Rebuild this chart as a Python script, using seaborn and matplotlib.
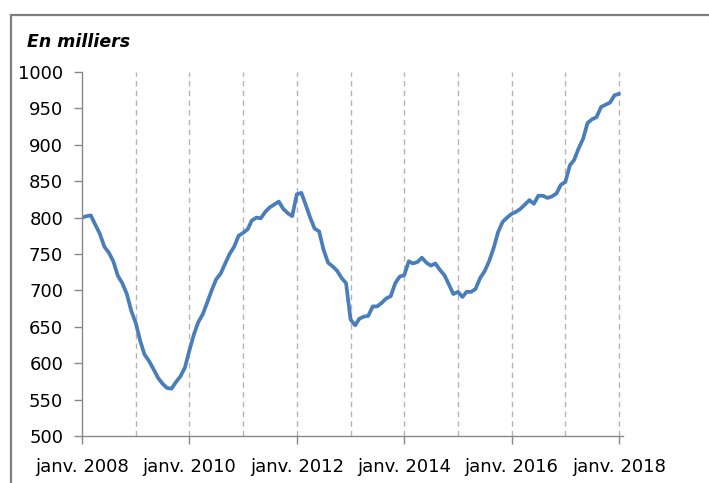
import pandas as pd
import seaborn as sns
import matplotlib.pyplot as plt
from matplotlib.patches import Rectangle

# Monthly series, janv. 2008 -> janv. 2018 (en milliers)
start = '2008-01-01'
values = [800, 802, 803, 790, 778, 760, 752, 740, 720, 710, 695, 672,
          655, 630, 612, 603, 592, 580, 572, 566, 565, 574, 582, 594,
          618, 640, 656, 667, 683, 700, 715, 723, 737, 750, 760, 775,
          779, 784, 796, 800, 799, 808, 814, 818, 822, 812, 806, 802,
          832, 834, 818, 800, 785, 781, 756, 738, 733, 727, 717, 710,
          660, 652, 661, 664, 665, 678, 678, 683, 689, 692, 710, 719,
          721, 740, 737, 739, 745, 738, 734, 737, 728, 721, 708, 695,
          698, 691, 698, 698, 702, 717, 726, 740, 758, 780, 794, 800,
          805, 808, 812, 818, 824, 819, 830, 830, 827, 829, 833, 845,
          849, 872, 879, 895, 908, 930, 935, 938, 952, 955, 958, 968,
          970]
tick_years = [2008, 2010, 2012, 2014, 2016, 2018]
tick_labels = ['janv. 2008', 'janv. 2010', 'janv. 2012', 'janv. 2014', 'janv. 2016', 'janv. 2018']
y_ticks = list(range(500, 1001, 50))

df = pd.DataFrame({'date': pd.date_range(start, periods=len(values), freq='MS'),
                   'value': values})

sns.set_style("white")
plt.rcParams['font.family'] = ['DejaVu Sans']
plt.rcParams['text.color'] = 'black'

fig = plt.figure(figsize=(7.09, 4.83), dpi=100)
ax = fig.add_axes([82/709, 1 - 436/483, (623 - 82)/709, (436 - 72)/483])

# vertical dashed grid at each January
for yr in range(2009, 2019):
    ax.axvline(pd.Timestamp(f'{yr}-01-01'), color='#b4b4b4', linestyle=(0, (4, 3)),
               linewidth=1.0, zorder=0)

sns.lineplot(data=df, x='date', y='value', ax=ax, color='#4a7ebb', linewidth=2.7)

ax.set_xlim(pd.Timestamp('2008-01-01'), pd.Timestamp('2018-01-28'))
ax.set_ylim(500, 1000)
ax.set_yticks(y_ticks)
ax.set_xticks([pd.Timestamp(f'{y}-01-01') for y in tick_years])
ax.set_xticklabels(tick_labels)
ax.set_xlabel('')
ax.set_ylabel('')

for s in ['top', 'right']:
    ax.spines[s].set_visible(False)
for s in ['left', 'bottom']:
    ax.spines[s].set_color('#888888')
    ax.spines[s].set_linewidth(1.0)

ax.tick_params(axis='both', direction='out', length=5.5, width=1.0, color='#888888',
               labelsize=13, labelcolor='black')
ax.tick_params(axis='y', pad=8, left=True)
ax.tick_params(axis='x', pad=10, bottom=True)

fig.text(27/709, 1 - 42/483, 'En milliers', fontsize=12.5, fontweight='bold',
         fontstyle='italic', va='center', ha='left', color='black')

# outer frame
fig.patches.append(Rectangle((11/709, -0.05), 1.2, 1 - 15/483 + 0.05,
                             transform=fig.transFigure, fill=False,
                             edgecolor='#7f7f7f', linewidth=1.6))

fig.savefig('out.png', dpi=100)
